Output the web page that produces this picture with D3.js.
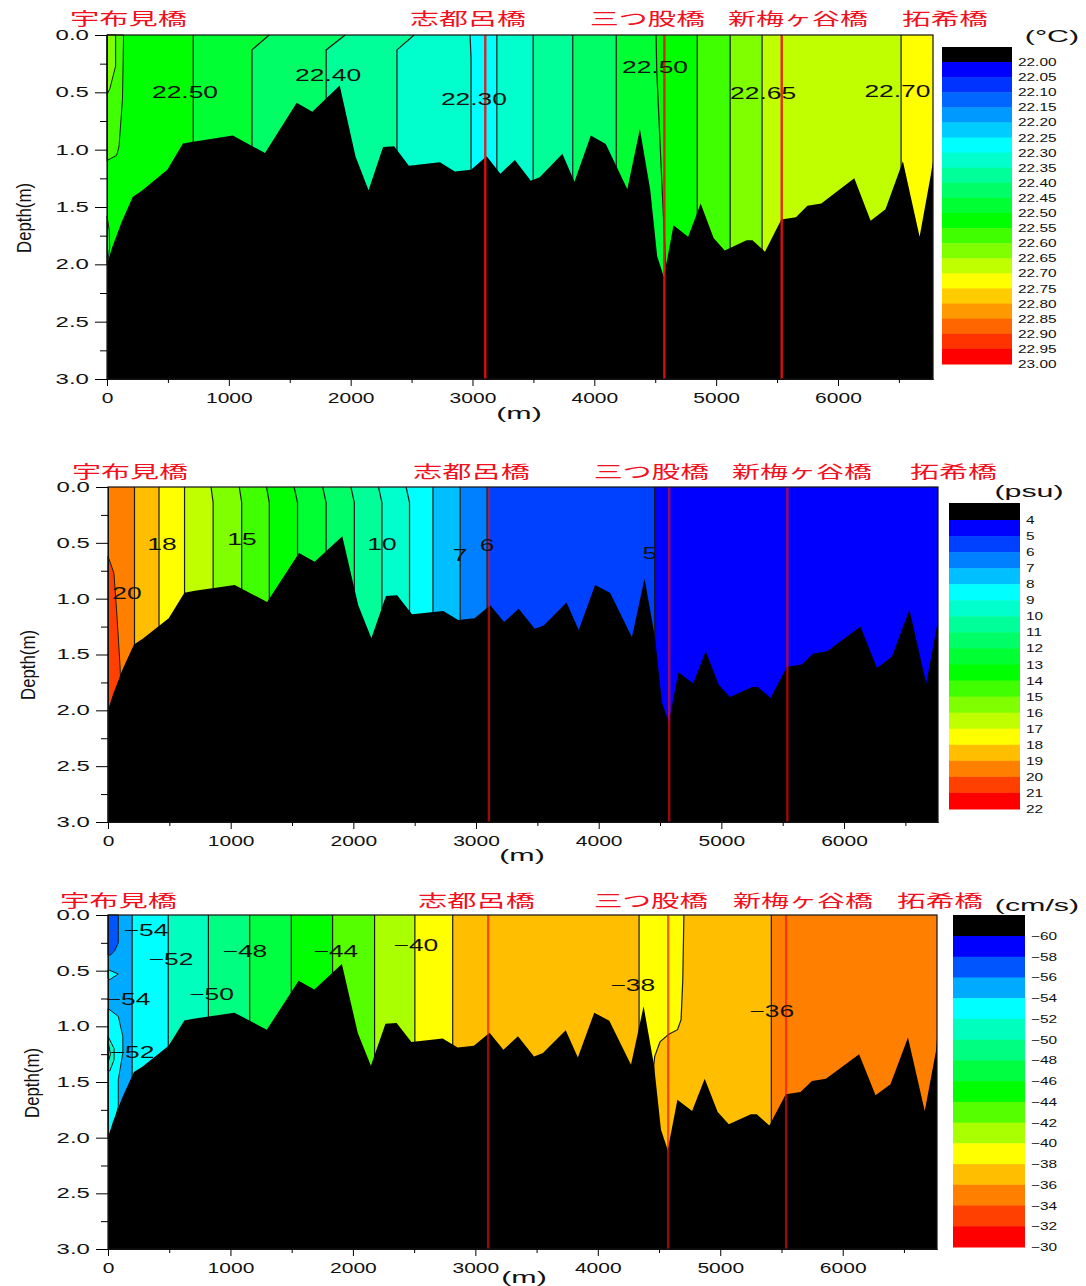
<!DOCTYPE html>
<html>
<head>
<meta charset="utf-8">
<script src="https://cdn.jsdelivr.net/npm/d3@7"></script>
<style>
body { margin: 0; background: #fff; }
text { font-family: "Liberation Sans", sans-serif; fill: #111; }
.jp { font-family: "Noto Sans CJK JP", sans-serif; fill: #f01020; }
</style>
</head>
<body>
<svg id="chart" width="1086" height="1286"></svg>
<script>
var bridgeNames = ["宇布見橋", "志都呂橋", "三つ股橋", "新梅ヶ谷橋", "拓希橋"];
var bridgeMetres = [3105, 4575, 5538];

// river bed, metres along the river and depth in metres. same for all three sections
var bedProfile = [[0,2],[40,1.86],[120,1.63],[212,1.41],[283,1.36],[495,1.175],[623,0.947],[708,0.93],[1033,0.877],[1297,1.03],
  [1557,0.59],[1685,0.67],[1910,0.44],[2040,1.06],[2147,1.355],[2266,0.977],[2357,0.97],[2478,1.14],[2733,1.11],[2855,1.19],
  [2988,1.175],[3116,1.058],[3229,1.21],[3348,1.09],[3479,1.27],[3552,1.24],[3738,1.035],[3837,1.28],[3971,0.877],[4094,0.95],
  [4271,1.345],[4374,0.82],[4459,1.35],[4516,1.93],[4571,2.11],[4650,1.66],[4770,1.76],[4873,1.47],[4979,1.77],[5070,1.88],
  [5250,1.79],[5298,1.79],[5401,1.89],[5535,1.61],[5655,1.59],[5749,1.49],[5863,1.47],[6134,1.25],[6268,1.62],[6390,1.52],
  [6533,1.10],[6670,1.76],[6762,1.22],[6800,1.1]];

var depthMajor = [0, 0.5, 1, 1.5, 2, 2.5, 3];
var depthMinor = [0.25, 0.75, 1.25, 1.75, 2.25, 2.75];
var metreMajor = [0, 1000, 2000, 3000, 4000, 5000, 6000];
var metreMinor = [500, 1500, 2500, 3500, 4500, 5500, 6500];

// --- temperature
var tempLegend = d3.range(0, 21).map(function(i) { return 22 + i * 0.05; });
var tempAnchors = [22, 22.25, 22.5, 22.7, 22.95];
var tempBase = 22.5;
// band = lower level of the colour band to the right of the contour
var tempContours = [
  {band: 22.45, path: [[708,0],[708,3]]},
  {band: 22.40, path: [[1331,0],[1190,0.13],[1190,3]]},
  {band: 22.35, path: [[1955,0],[1799,0.13],[1799,3]]},
  {band: 22.30, path: [[2521,0],[2380,0.13],[2380,3]]},
  {band: 22.25, path: [[2980,0],[2988,0.2],[2988,3]]},
  {band: 22.30, path: [[3200,0],[3200,3]]},
  {band: 22.35, path: [[3498,0],[3498,3]]},
  {band: 22.40, path: [[3823,0],[3823,3]]},
  {band: 22.45, path: [[4180,0],[4180,3]]},
  {band: 22.50, path: [[4507,0],[4512,0.3],[4540,0.95],[4555,1.3],[4590,2.1],[4590,3]]},
  {band: 22.55, path: [[4845,0],[4845,3]]},
  {band: 22.60, path: [[5115,0],[5115,3]]},
  {band: 22.65, path: [[5377,0],[5377,3]]},
  {band: 22.70, path: [[6518,0],[6518,3]]}
];
var tempPatches = [
  {band: 22.55, path: [[0,0],[136,0],[127,0.56],[99,0.97],[79,1.05],[8,1.09],[0,1.1]]},
  {band: 22.60, path: [[0,0],[71,0],[71,0.27],[23,0.47],[0,0.52]]},
  {band: 22.45, path: [[0,1.58],[18,1.7],[22,1.85],[5,2.0],[0,2.0]]}
];
var tempLabels = [["22.50",640,0.5],["22.40",1815,0.35],["22.30",3012,0.56],["22.50",4498,0.28],["22.65",5385,0.51],["22.70",6488,0.49]];

// --- salinity
var salLegend = d3.range(4, 23);
var salAnchors = [4, 8, 13, 17, 21];
var salBase = 19;
var salContours = [
  {band: 18, path: [[216,0],[216,3]]},
  {band: 17, path: [[416,0],[416,3]]},
  {band: 16, path: [[624,0],[624,3]]},
  {band: 15, path: [[840,0],[857,0.14],[857,3]]},
  {band: 14, path: [[1070,0],[1090,0.14],[1090,3]]},
  {band: 13, path: [[1292,0],[1315,0.14],[1315,3]]},
  {band: 12, path: [[1517,0],[1545,0.14],[1545,3]]},
  {band: 11, path: [[1750,0],[1778,0.14],[1778,3]]},
  {band: 10, path: [[1980,0],[2008,0.14],[2008,3]]},
  {band: 9, path: [[2205,0],[2233,0.14],[2233,3]]},
  {band: 8, path: [[2430,0],[2458,0.14],[2458,3]]},
  {band: 7, path: [[2649,0],[2649,3]]},
  {band: 6, path: [[2871,0],[2871,3]]},
  {band: 5, path: [[3090,0],[3090,3]]},
  {band: 4, path: [[4456,0],[4456,3]]}
];
var salPatches = [
  {band: 20, path: [[0,0.62],[48,0.77],[70,1.1],[98,1.6],[104,1.77],[104,3],[0,3]]}
];
var salLabels = [["18",440,0.51],["15",1092,0.47],["10",2233,0.51],["7",2870,0.61],["6",3090,0.52],["5",4418,0.59],["20",155,0.95]];

// --- velocity
var velLegend = d3.range(-60, -28, 2);
var velAnchors = [-60, -54, -46, -40, -32];
var velBase = -56;
var velContours = [
  {band: -54, path: [[197,0],[197,3]]},
  {band: -52, path: [[492,0],[492,3]]},
  {band: -50, path: [[820,0],[820,3]]},
  {band: -48, path: [[1157,0],[1157,3]]},
  {band: -46, path: [[1497,0],[1497,3]]},
  {band: -44, path: [[1834,0],[1834,3]]},
  {band: -42, path: [[2177,0],[2177,3]]},
  {band: -40, path: [[2506,0],[2506,3]]},
  {band: -38, path: [[2815,0],[2815,3]]},
  {band: -40, path: [[4337,0],[4337,3]]},
  {band: -38, path: [[4703,0],[4694,0.58],[4680,0.94],[4651,1.03],[4580,1.07],[4508,1.14],[4465,1.27],[4457,1.35],[4457,3]]},
  {band: -36, path: [[5417,0],[5417,3]]}
];
var velPatches = [
  {band: -58, path: [[0,0],[84,0],[84,0.25],[55,0.32],[20,0.36],[0,0.36]]},
  {band: -54, path: [[0,0.49],[84,0.53],[15,0.58],[0,0.57]]},
  {band: -54, path: [[0,0.84],[84,0.91],[121,1.09],[121,1.24],[84,1.48],[84,1.72],[42,1.9],[0,2.0]]},
  {band: -52, path: [[0,1.09],[50,1.2],[50,1.3],[15,1.4],[0,1.4]]},
  {band: -50, path: [[0,1.13],[20,1.25],[0,1.33]]}
];
var velLabels = [["−54",310,0.135],["−52",514,0.395],["−48",1118,0.32],["−44",1861,0.32],["−40",2514,0.27],["−50",845,0.71],["−54",163,0.75],["−52",196,1.23],["−38",4286,0.63],["−36",5420,0.86]];

var rainbow = ["#0000ff", "#00ffff", "#00ff00", "#ffff00", "#ff0000"];

var svg = d3.select("#chart");
svg.append("rect").attr("width", 1086).attr("height", 1286).attr("fill", "#fff");

// text in the original is wide and squat, so squeeze it with a horizontal scale
function wideText(parent, str, x, y, size, sx, anchor) {
  return parent.append("text")
    .attr("transform", "translate(" + x + "," + y + ") scale(" + sx + ",1)")
    .attr("font-size", size)
    .attr("text-anchor", anchor || "middle")
    .text(str);
}

function drawPanel(p) {
  var g = svg.append("g");
  var x = d3.scaleLinear().domain([0, p.maxMetres]).range([p.left, p.right]);
  var y = d3.scaleLinear().domain([0, 3]).range([p.top, p.bottom]);
  var color = d3.scaleLinear().domain(p.anchors).range(rainbow).interpolate(d3.interpolateRgb);
  var line = d3.line().x(function(d) { return x(d[0]); }).y(function(d) { return y(d[1]); });

  // base colour then each band painted from its contour to the right edge
  g.append("rect")
    .attr("x", p.left).attr("y", p.top)
    .attr("width", p.right - p.left).attr("height", p.bottom - p.top)
    .attr("fill", color(p.base));

  g.selectAll("path.band").data(p.contours).enter().append("path")
    .attr("class", "band")
    .attr("fill", function(d) { return color(d.band); })
    .attr("d", function(d) { return line(d.path.concat([[p.maxMetres, 3], [p.maxMetres, 0]])) + "Z"; });

  g.selectAll("path.patch").data(p.patches).enter().append("path")
    .attr("class", "patch")
    .attr("fill", function(d) { return color(d.band); })
    .attr("stroke", "#1a1a1a")
    .attr("stroke-width", 1)
    .attr("d", function(d) { return line(d.path) + "Z"; });

  g.selectAll("path.contour").data(p.contours).enter().append("path")
    .attr("class", "contour")
    .attr("fill", "none")
    .attr("stroke", "#1a1a1a")
    .attr("stroke-width", 1.2)
    .attr("d", function(d) { return line(d.path); });

  var bed = d3.area()
    .x(function(d) { return x(Math.min(d[0], p.maxMetres)); })
    .y0(p.bottom)
    .y1(function(d) { return y(d[1]); });
  g.append("path").datum(bedProfile).attr("fill", "#000").attr("d", bed);

  g.selectAll("line.bridge").data(bridgeMetres).enter().append("line")
    .attr("class", "bridge")
    .attr("x1", function(d) { return x(d); })
    .attr("x2", function(d) { return x(d); })
    .attr("y1", p.top).attr("y2", p.bottom)
    .attr("stroke", "#ee1010")
    .attr("stroke-opacity", p.bridgeOpacity)
    .attr("stroke-width", 2.4);

  p.labels.forEach(function(d) {
    wideText(g, d[0], x(d[1]), y(d[2]) + 6, 16.5, 1.6);
  });

  // frame
  g.append("rect")
    .attr("x", p.left).attr("y", p.top)
    .attr("width", p.right - p.left).attr("height", p.bottom - p.top)
    .attr("fill", "none").attr("stroke", "#111").attr("stroke-width", 1.2);

  // axes
  var axisY = g.append("g").attr("transform", "translate(" + p.left + ",0)")
    .call(d3.axisLeft(y).tickValues(depthMajor).tickSize(12).tickSizeOuter(0).tickPadding(4).tickFormat(d3.format(".1f")));
  axisY.selectAll("text").attr("font-size", 14.5).attr("transform", "scale(1.65,1)").attr("x", -11).attr("dy", "0.3em").style("font-family", "Liberation Sans").attr("fill", "#111");
  g.append("g").attr("transform", "translate(" + p.left + ",0)")
    .call(d3.axisLeft(y).tickValues(depthMinor).tickSize(7).tickSizeOuter(0).tickFormat(""));

  var axisX = g.append("g").attr("transform", "translate(0," + p.bottom + ")")
    .call(d3.axisBottom(x).tickValues(metreMajor).tickSize(7).tickSizeOuter(0).tickPadding(5).tickFormat(d3.format("d")));
  axisX.selectAll("text").attr("font-size", 14.5).attr("transform", "scale(1.45,1)").attr("dy", "0.8em").style("font-family", "Liberation Sans").attr("fill", "#111");
  g.append("g").attr("transform", "translate(0," + p.bottom + ")")
    .call(d3.axisBottom(x).tickValues(metreMinor).tickSize(4).tickSizeOuter(0).tickFormat(""));
  g.selectAll(".domain").attr("stroke", "#111");

  wideText(g, "(m)", p.metreLabel[0], p.metreLabel[1], 16, 1.9);

  g.append("text")
    .attr("transform", "translate(" + p.depthLabel[0] + "," + p.depthLabel[1] + ") rotate(-90)")
    .attr("text-anchor", "middle")
    .attr("font-size", 21)
    .attr("textLength", 70)
    .attr("lengthAdjust", "spacingAndGlyphs")
    .text("Depth(m)");

  // bridge names on top
  bridgeNames.forEach(function(name, i) {
    g.append("text")
      .attr("class", "jp")
      .attr("x", p.bridgeText[i][0])
      .attr("y", p.bridgeY)
      .attr("font-size", 17)
      .attr("textLength", p.bridgeText[i][1] - p.bridgeText[i][0])
      .attr("lengthAdjust", "spacingAndGlyphs")
      .text(name);
  });

  // colour legend: black cap then one box per interval
  var lg = p.legend;
  var ly = d3.scaleLinear().domain([p.levels[0], p.levels[p.levels.length - 1]]).range([lg.y0, lg.y1]);
  g.append("rect").attr("x", lg.x0).attr("y", lg.cap).attr("width", lg.x1 - lg.x0).attr("height", lg.y0 - lg.cap).attr("fill", "#000");
  g.selectAll("rect.key").data(p.levels.slice(0, -1)).enter().append("rect")
    .attr("class", "key")
    .attr("x", lg.x0)
    .attr("y", function(d) { return ly(d); })
    .attr("width", lg.x1 - lg.x0)
    .attr("height", function(d, i) { return ly(p.levels[i + 1]) - ly(d) + 0.5; })
    .attr("fill", function(d) { return color(d); });
  p.levels.forEach(function(v) {
    wideText(g, p.levelFormat(v), lg.x1 + 6, ly(v) + 4, 11, 1.4, "start");
  });
  wideText(g, p.unit[0], p.unit[1], p.unit[2], 16, 1.9);
}

drawPanel({
  left: 107, right: 933, top: 35, bottom: 379, maxMetres: 6780,
  anchors: tempAnchors, base: tempBase, contours: tempContours, patches: tempPatches, labels: tempLabels,
  levels: tempLegend, levelFormat: d3.format(".2f"),
  legend: {x0: 942, x1: 1012, cap: 47, y0: 62, y1: 364},
  unit: ["(°C)", 1052, 42], metreLabel: [519, 419], depthLabel: [31, 218], bridgeOpacity: 0.9,
  bridgeY: 25, bridgeText: [[70,187],[410,526],[590,705],[728,868],[902,988]]
});
drawPanel({
  left: 108, right: 938, top: 487, bottom: 822, maxMetres: 6766,
  anchors: salAnchors, base: salBase, contours: salContours, patches: salPatches, labels: salLabels,
  levels: salLegend, levelFormat: d3.format("d"),
  legend: {x0: 949, x1: 1020, cap: 503, y0: 520, y1: 809},
  unit: ["(psu)", 1029, 497], metreLabel: [522, 861], depthLabel: [35, 665], bridgeOpacity: 0.65,
  bridgeY: 478, bridgeText: [[72,188],[413,530],[594,709],[732,872],[910,997]]
});
drawPanel({
  left: 108, right: 937, top: 915, bottom: 1249, maxMetres: 6770,
  anchors: velAnchors, base: velBase, contours: velContours, patches: velPatches, labels: velLabels,
  levels: velLegend, levelFormat: function(v) { return "−" + Math.abs(v); },
  legend: {x0: 953, x1: 1025, cap: 915, y0: 936, y1: 1247},
  unit: ["(cm/s)", 1037, 911], metreLabel: [524, 1283], depthLabel: [39, 1083], bridgeOpacity: 0.65,
  bridgeY: 907, bridgeText: [[60,177],[418,535],[594,708],[733,873],[897,983]]
});
</script>
</body>
</html>
